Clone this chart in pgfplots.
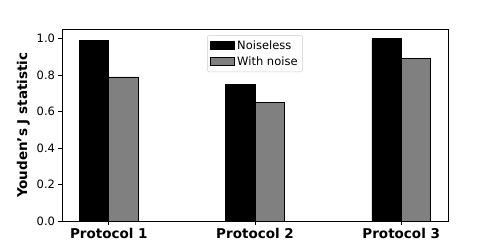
\documentclass[border=0pt]{standalone}
\usepackage{fontspec}
\setmainfont{DejaVu Sans}
\usepackage{pgfplots}
\pgfplotsset{compat=1.18}
\definecolor{mgray}{HTML}{808080}
\begin{document}
\begin{tikzpicture}
\begin{axis}[
  at={(0,0)}, anchor=south west,
  scale only axis, width=386bp, height=191.5bp,
  xmin=-0.32, xmax=2.32, ymin=0, ymax=1.05,
  xtick={0,1,2}, xticklabels={Protocol 1,Protocol 2,Protocol 3},
  ytick={0,0.2,0.4,0.6,0.8,1.0},
  yticklabel style={/pgf/number format/fixed,/pgf/number format/fixed zerofill,/pgf/number format/precision=1},
  /pgf/number format/assume math mode=true,
  tick label style={font=\fontsize{11.5bp}{13bp}\selectfont},
  xticklabel style={font=\fontsize{13.5bp}{15bp}\selectfont\bfseries},
  ylabel={Youden’s J statistic},
  ylabel style={font=\fontsize{13.5bp}{15bp}\selectfont\bfseries},
  tick align=outside, tick pos=left, major tick length=3.5bp,
  every tick/.style={black, line width=0.8bp},
  axis line style={line width=0.8bp},
  ybar, bar width=0.2,
  legend style={at={(0.5,0.97)}, anchor=north, font=\fontsize{11.5bp}{13bp}\selectfont,
    draw=black!20, rounded corners=2bp, fill=white, fill opacity=0.8, text opacity=1,
    row sep=2bp, inner sep=3bp},
  legend cell align=left,
  legend image code/.code={\draw[#1, sharp corners, fill opacity=1, draw opacity=1] (0bp,-3.5bp) rectangle (24bp,4bp);},
]
\addplot[bar shift=0pt, fill=black, draw=black, line width=0.8bp] coordinates {(-0.1,0.99) (0.9,0.75) (1.9,1.00)};
\addplot[bar shift=0pt, fill=mgray, draw=black, line width=0.8bp] coordinates {(0.1,0.79) (1.1,0.65) (2.1,0.89)};
\legend{Noiseless, With noise}
\end{axis}
\pgfresetboundingbox
\path (-62bp,-28bp) rectangle (436bp,221bp);
\end{tikzpicture}
\end{document}
